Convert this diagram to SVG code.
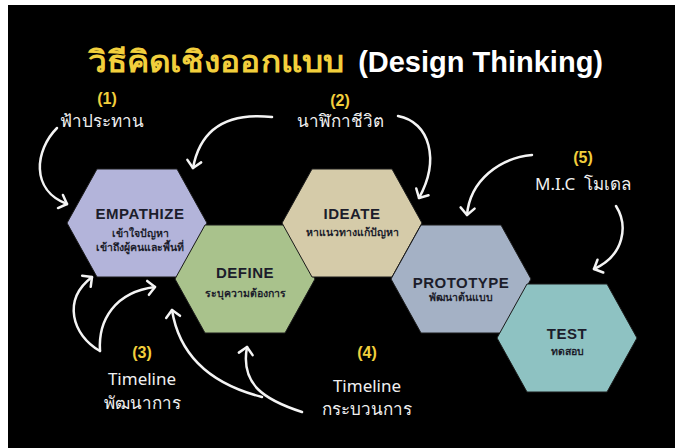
<svg xmlns="http://www.w3.org/2000/svg" width="675" height="448" viewBox="0 0 675 448">
<defs>
<style>
.hex{stroke:#1a1a1a;stroke-width:1}
.h{font-family:"Liberation Sans","DejaVu Sans",sans-serif;font-weight:bold;font-size:15px;fill:#1c1d2b;text-anchor:middle;letter-spacing:0.5px}
.s{font-family:"Noto Sans","DejaVu Sans",sans-serif;font-weight:bold;font-size:10.5px;fill:#1c1d2b;text-anchor:middle}
.num{font-family:"Liberation Sans","DejaVu Sans",sans-serif;font-weight:bold;font-size:16px;fill:#f2cf3c;text-anchor:middle}
.lab{font-family:"Noto Sans","Liberation Sans",sans-serif;font-size:17px;fill:#f0f0f0;text-anchor:middle}
.arr{fill:none;stroke:#f4f4f4;stroke-width:2.5;stroke-linecap:round;marker-end:url(#ah)}
</style>
<marker id="ah" markerUnits="userSpaceOnUse" orient="auto" markerWidth="20" markerHeight="20" refX="0" refY="0" viewBox="-10 -10 20 20" overflow="visible">
<path d="M-7,-7 L0,0 L-7,7" fill="none" stroke="#f4f4f4" stroke-width="2.5" stroke-linecap="round" stroke-linejoin="round"/>
</marker>
<path id="hx" d="M-70,0 L-40,-54 L40,-54 L70,0 L40,54 L-40,54 Z"/>
</defs>
<rect x="0" y="0" width="675" height="448" fill="#ffffff"/>
<rect x="8" y="5" width="667" height="443" fill="#000000"/>

<g id="title">
<text x="88" y="72" font-family="Noto Sans,Liberation Sans,sans-serif" font-weight="bold" font-size="30" fill="#f2cf3c" textLength="256" lengthAdjust="spacingAndGlyphs">วิธีคิดเชิงออกแบบ</text>
<text x="603" y="72" font-family="Liberation Sans,sans-serif" font-weight="bold" font-size="29" fill="#ffffff" text-anchor="end">(Design Thinking)</text>
</g>

<g id="empathize">
<use href="#hx" x="137" y="223" fill="#b3b4da" class="hex"/>
<text class="h" x="140" y="219">EMPATHIZE</text>
<text class="s" x="140" y="237">เข้าใจปัญหา</text>
<text class="s" x="140" y="251">เข้าถึงผู้คนและพื้นที่</text>
</g>
<g id="define">
<use href="#hx" x="245" y="279" fill="#a9c28c" class="hex"/>
<text class="h" x="245" y="278">DEFINE</text>
<text class="s" x="245" y="297">ระบุความต้องการ</text>
</g>
<g id="ideate">
<use href="#hx" x="352" y="223" fill="#d5cba9" class="hex"/>
<text class="h" x="352" y="219">IDEATE</text>
<text class="s" x="352" y="236">หาแนวทางแก้ปัญหา</text>
</g>
<g id="prototype">
<use href="#hx" x="461" y="279" fill="#a4b1c5" class="hex"/>
<text class="h" x="461" y="288">PROTOTYPE</text>
<text class="s" x="461" y="301">พัฒนาต้นแบบ</text>
</g>
<g id="test">
<use href="#hx" x="567" y="338" fill="#8ec2c2" class="hex"/>
<text class="h" x="567" y="339">TEST</text>
<text class="s" x="567" y="355">ทดสอบ</text>
</g>

<g id="label1">
<text class="num" x="107" y="104">(1)</text>
<text class="lab" x="102" y="127">ฟ้าประทาน</text>
</g>
<g id="label2">
<text class="num" x="340" y="106">(2)</text>
<text class="lab" x="340" y="127">นาฬิกาชีวิต</text>
</g>
<g id="label5">
<text class="num" x="583" y="163">(5)</text>
<text class="lab" x="583" y="190" font-size="18">M.I.C&#160; โมเดล</text>
</g>
<g id="label3">
<text class="num" x="142" y="358">(3)</text>
<text class="lab" x="142" y="385" font-size="18">Timeline</text>
<text class="lab" x="142" y="409" font-size="18">พัฒนาการ</text>
</g>
<g id="label4">
<text class="num" x="367" y="358">(4)</text>
<text class="lab" x="367" y="392" font-size="18">Timeline</text>
<text class="lab" x="367" y="415" font-size="18">กระบวนการ</text>
</g>

<g id="connectors">
<path class="arr" d="M57,128 C35,150 30,190 67,204"/>
<path class="arr" d="M272,117 C225,112 200,130 193,168"/>
<path class="arr" d="M398,116 C430,122 440,160 419,198"/>
<path class="arr" d="M532,155 C500,158 470,180 467,215"/>
<path class="arr" d="M616,206 C628,225 625,255 594,269"/>
<path class="arr" d="M100,351 C72,335 62,300 92,277"/>
<path class="arr" d="M100,351 C98,320 115,292 155,287"/>
<path class="arr" d="M262,397 C215,385 180,360 172,310"/>
<path class="arr" d="M302,412 C265,400 240,385 247,347"/>
</g>
</svg>
